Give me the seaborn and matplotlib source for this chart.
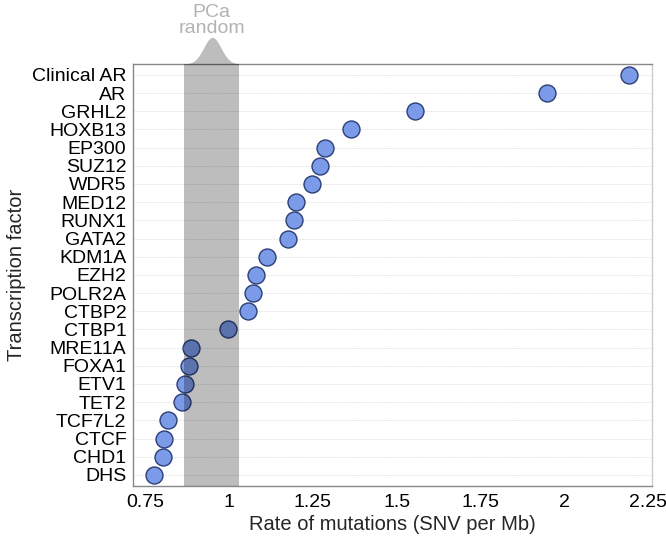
import numpy as np
import pandas as pd
import matplotlib
matplotlib.use("Agg")
import matplotlib.pyplot as plt
import seaborn as sns

# datos
factores = ["Clinical AR", "AR", "GRHL2", "HOXB13", "EP300", "SUZ12", "WDR5",
            "MED12", "RUNX1", "GATA2", "KDM1A", "EZH2", "POLR2A", "CTBP2",
            "CTBP1", "MRE11A", "FOXA1", "ETV1", "TET2", "TCF7L2", "CTCF",
            "CHD1", "DHS"]
tasa = [2.192, 1.950, 1.556, 1.363, 1.286, 1.271, 1.247,
        1.199, 1.194, 1.176, 1.114, 1.080, 1.071, 1.056,
        0.998, 0.887, 0.880, 0.868, 0.861, 0.818, 0.806,
        0.804, 0.777]
x_ticks = [0.75, 1, 1.25, 1.5, 1.75, 2, 2.25]
x_tick_labels = ["0.75", "1", "1.25", "1.5", "1.75", "2", "2.25"]

# banda aleatoria PCa
random_low = 0.867
random_high = 1.029
random_mean = 0.95
random_sd = 0.026

df = pd.DataFrame({"factor": factores, "tasa": tasa})

sns.set_style("white")
plt.rcParams["font.family"] = ["Liberation Sans", "DejaVu Sans"]

fig = plt.figure(figsize=(6.66, 5.42), dpi=100)
ax = fig.add_axes([0.2, 0.104, 0.779, 0.778])

# lineas guia
for i in range(len(factores)):
    ax.axhline(i, color="#dedede", lw=0.7, ls=(0, (1.5, 1.5)), zorder=0)

sns.stripplot(data=df, x="tasa", y="factor", order=factores, jitter=False,
              size=12.2, color="#7b9be8", edgecolor="#2b3e78", linewidth=1,
              ax=ax, zorder=3)

# banda gris encima de los puntos
ax.axvspan(random_low, random_high, color="black", alpha=0.26, lw=0, zorder=4)

ax.set_xlim(0.714, 2.262)
ax.set_ylim(len(factores) - 1 + 0.59, -0.6)
ax.set_xticks(x_ticks)
ax.set_xticklabels(x_tick_labels)
ax.tick_params(axis="both", labelsize=14, colors="#999999", labelcolor="black",
               length=3, width=0.8, direction="out")
ax.tick_params(axis="y", pad=2)
ax.tick_params(axis="x", pad=3)
ax.set_xlabel("Rate of mutations (SNV per Mb)", fontsize=14.5, labelpad=3)
ax.set_ylabel("Transcription factor", fontsize=14.5, labelpad=4)

for lado in ["left", "bottom", "top"]:
    ax.spines[lado].set_color("#888888")
    ax.spines[lado].set_linewidth(1)
ax.spines["right"].set_color("#cccccc")
ax.spines["right"].set_linewidth(1)

# densidad arriba
ax_top = fig.add_axes([0.2, 0.882, 0.779, 0.05], sharex=ax)
xs = np.linspace(random_low, random_high, 200)
dens = np.exp(-0.5 * ((xs - random_mean) / random_sd) ** 2)
ax_top.fill_between(xs, 0, dens, color="black", alpha=0.26, lw=0)
ax_top.set_ylim(0, 1.02)
ax_top.axis("off")

fig.text(0.3175, 0.993, "PCa\nrandom", ha="center", va="top", fontsize=14,
         color="#b3b3b3", linespacing=0.95)

fig.savefig("out.png", dpi=100)
